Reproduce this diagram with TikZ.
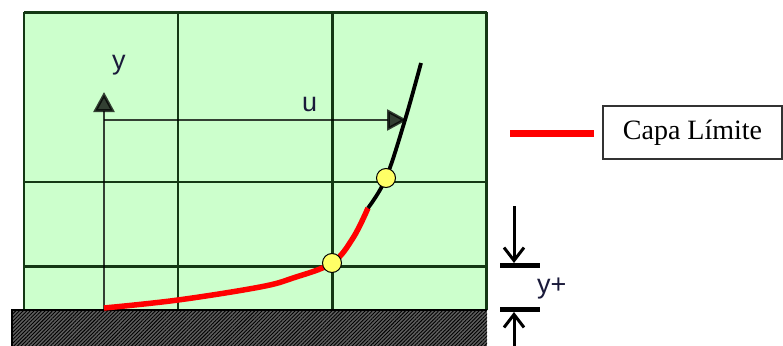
\documentclass[tikz,border=0pt]{standalone}
\usepackage{fontspec}
\setmainfont{Liberation Serif}
\setsansfont{Liberation Sans}
\usetikzlibrary{arrows.meta, patterns.meta}
\definecolor{cellgreen}{HTML}{CCFFCC}
\definecolor{gridgreen}{HTML}{143814}
\definecolor{wallgray}{HTML}{5E5E5E}
\definecolor{dotyellow}{HTML}{FFFF66}
\definecolor{inkblue}{HTML}{1A1A3A}

\begin{document}
\begin{tikzpicture}[x=1pt, y=-1pt,
      every node/.style={inner sep=0pt},
      gridline/.style={draw=gridgreen, line width=2.2pt},
      axis/.style={draw=black, line width=2.8pt, opacity=0.75, -{Triangle[length=20pt,width=21pt]}},
      lbl/.style={font=\sffamily\fontsize{27}{30}\selectfont, text=inkblue},
      dot/.style={circle, draw=black, line width=1pt, fill=dotyellow, minimum size=19pt},
      dimbar/.style={line width=5pt},
      dimarrow/.style={line width=3pt, -{Straight Barb[length=13pt,width=20pt]}},
      legendbox/.style={draw=black!80, line width=1.2pt, minimum width=179pt, minimum height=53pt, font=\fontsize{28}{32}\selectfont},
    ]
    \useasboundingbox (0,0) rectangle (783,345);
    % cells
    \fill[cellgreen] (24,12.5) rectangle (487,310);
    \foreach \gx in {24, 178, 332.5, 486.5}
      \draw[gridline] (\gx,12.5) -- (\gx,310);
    \foreach \gy in {12.5, 182, 266.5}
      \draw[gridline] (24,\gy) -- (487,\gy);
    % wall
    \fill[wallgray] (12,310) rectangle (487,346);
    \fill[pattern={Lines[angle=45,distance=2.6pt,line width=0.9pt]}, pattern color=black] (12,310) rectangle (487,346);
    \draw[line width=2pt] (12,346) -- (12,310) -- (487,310);
    % axes
    \coordinate (origin) at (104,309);
    \coordinate (ytip) at (104,92);
    \coordinate (ustart) at (104,120);
    \coordinate (utip) at (407,120);
    \draw[axis] (origin) -- (ytip);
    \draw[axis] (ustart) -- (utip);
    \node[lbl, anchor=base west] (ylbl) at (112,70) {y};
    \node[lbl, anchor=base west] (ulbl) at (302,111) {u};
    % velocity profile
    \coordinate (p1pos) at (332,263);
    \coordinate (p2pos) at (386,178);
    \draw[red, line width=5.5pt] plot[smooth, tension=0.6] coordinates
      {(104,308) (178,300) (260,287) (293,278) (p1pos) (353,238) (368,208)};
    \draw[black, line width=3.8pt] plot[smooth, tension=0.6] coordinates
      {(368,208) (p2pos) (405,120) (421,63)};
    \node[dot] (p1) at (p1pos) {};
    \node[dot] (p2) at (p2pos) {};
    % legend
    \coordinate (lstart) at (510,133);
    \coordinate (lend) at (594,133);
    \draw[red, line width=7pt] (lstart) -- (lend);
    \node[legendbox] (legend) at (692.5,132.5) {Capa L\'imite};
    % y+ dimension
    \coordinate (barTa) at (500,265.5);
    \coordinate (barTb) at (540,265.5);
    \coordinate (barBa) at (500,309.5);
    \coordinate (barBb) at (540,309.5);
    \coordinate (topstart) at (514,206);
    \coordinate (topend) at (514,263);
    \coordinate (botstart) at (514,346);
    \coordinate (botend) at (514,312);
    \draw[dimbar] (barTa) -- (barTb);
    \draw[dimbar] (barBa) -- (barBb);
    \draw[dimarrow] (topstart) -- (topend);
    \draw[dimarrow] (botstart) -- (botend);
    \node[lbl, anchor=base west] (yplus) at (537,293) {y+};
\end{tikzpicture}
\end{document}
